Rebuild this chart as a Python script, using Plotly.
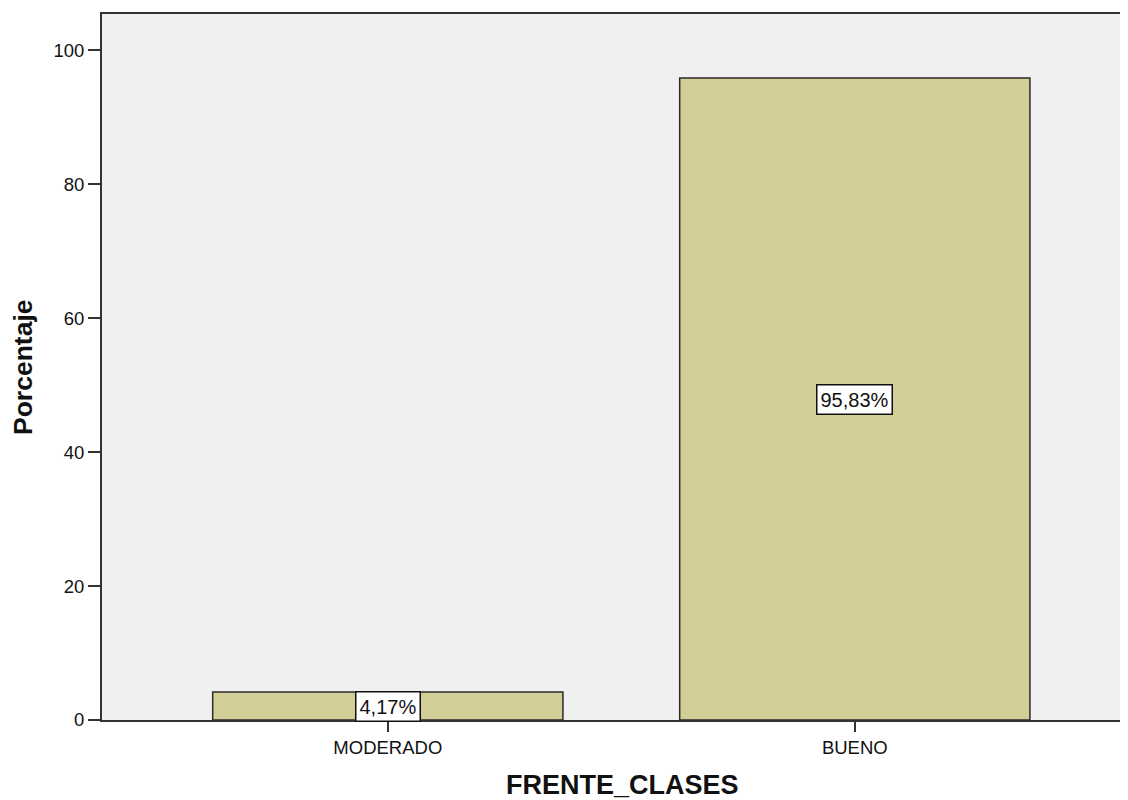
import plotly.graph_objects as go

categories = ["MODERADO", "BUENO"]
percentages = [4.17, 95.83]
y_ticks = [0, 20, 40, 60, 80, 100]

fig = go.Figure()
fig.add_trace(go.Bar(
    x=categories, y=percentages, width=0.75,
    marker=dict(color="#D3CE98", line=dict(color="#2b2b2b", width=1.5)),
    hoverinfo="skip",
))

# boxed value labels at half bar height
for c, v in zip(categories, percentages):
    fig.add_annotation(
        x=c, y=v / 2, xref="x", yref="y",
        text=f"{v:.2f}%".replace(".", ","), showarrow=False,
        font=dict(family="Liberation Sans, Arial", size=20, color="#111"),
        bgcolor="white", bordercolor="#111", borderwidth=1.5, borderpad=3,
    )

# axis titles placed as annotations
fig.add_annotation(
    text="<b>FRENTE_CLASES</b>", xref="paper", yref="paper",
    x=0.507, y=-0.092, xanchor="center", yanchor="middle", showarrow=False,
    font=dict(family="Liberation Sans, Arial", size=27, color="#111"),
)
fig.add_annotation(
    text="<b>Porcentaje</b>", xref="paper", yref="paper", textangle=-90,
    x=-0.077, y=0.5, xanchor="center", yanchor="middle", showarrow=False,
    font=dict(family="Liberation Sans, Arial", size=26.5, color="#111"),
)

# page body has an 8px margin, so the figure is 8px smaller each way
fig.update_layout(
    width=1120, height=792,
    margin=dict(l=94, r=0, t=6, b=80),
    paper_bgcolor="white", plot_bgcolor="#F0F0F0",
    font=dict(family="Liberation Sans, Arial", size=18.5, color="#111"),
    showlegend=False,
    bargap=0.25,
)
fig.update_xaxes(
    range=[-0.612, 1.585], showgrid=False, automargin=False,
    showline=True, linecolor="#333", linewidth=2, mirror=True,
    ticks="outside", ticklen=10, tickwidth=1.5, tickcolor="#333",
)
fig.update_yaxes(
    range=[0, 105.4], tickvals=y_ticks, showgrid=False, zeroline=False,
    automargin=False,
    showline=True, linecolor="#333", linewidth=2,
    ticks="outside", ticklen=12, tickwidth=1.5, tickcolor="#333",
)

fig.write_html("out.html")
